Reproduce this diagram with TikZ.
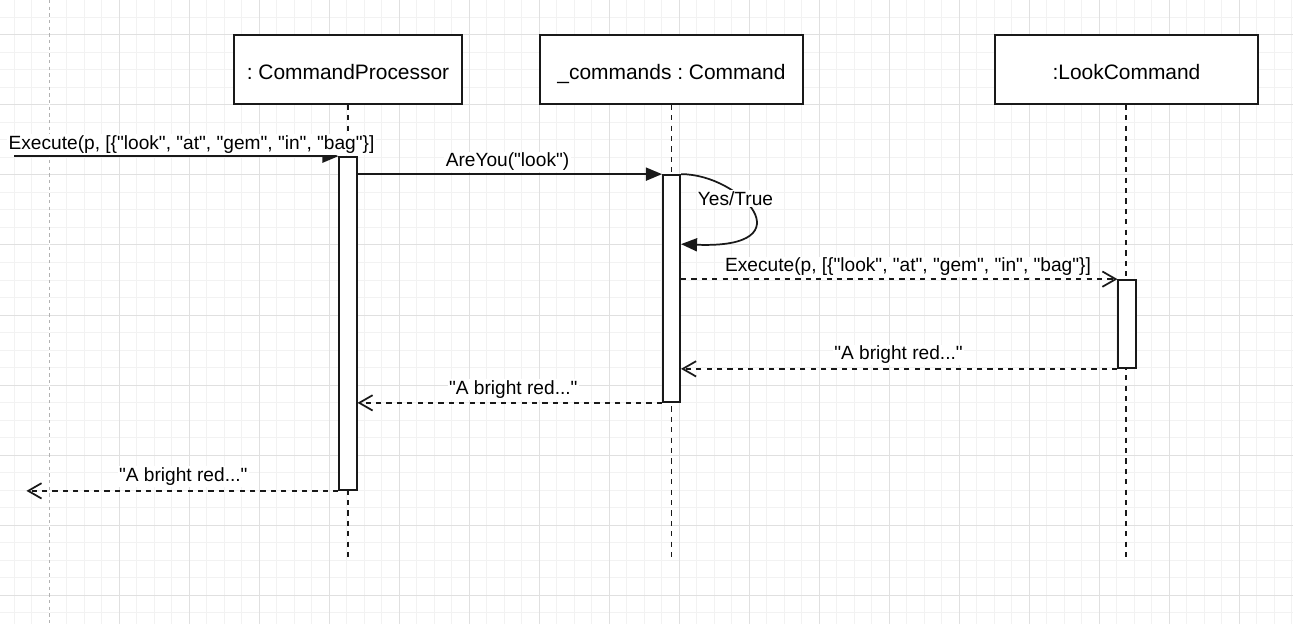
\documentclass[tikz,border=0pt]{standalone}
\usepackage{fontspec}
\setmainfont{Liberation Sans}[Ligatures=TeXOff]
\usetikzlibrary{arrows.meta}

\begin{document}
\frenchspacing
\begin{tikzpicture}[x=0.75pt,y=-0.75pt,
  gridminor/.style={draw=black!5, line width=0.75pt},
  gridmajor/.style={draw=black!12, line width=0.75pt},
  pageline/.style={draw=black!30, line width=0.75pt, dash pattern=on 2.5pt off 2.5pt},
  objbox/.style={draw=black!90, line width=1.3pt, fill=white, minimum height=51.75pt,
    inner sep=0pt, text height=15pt, text depth=0pt,
    font=\fontsize{15.7pt}{18pt}\selectfont},
  lifeline/.style={draw=black!90, line width=1.3pt, dash pattern=on 3.9pt off 3.9pt},
  act/.style={draw=black!90, line width=1.3pt, fill=white, minimum width=13pt, inner sep=0pt},
  call/.style={draw=black!90, line width=1.3pt, -{Triangle[length=12pt,width=9.75pt]}},
  reply/.style={draw=black!90, line width=1.3pt, dash pattern=on 3.9pt off 3.9pt,
    -{Straight Barb[length=10pt,width=11.5pt]}},
  lbl/.style={font=\fontsize{14.35pt}{17pt}\selectfont, fill=white, inner sep=1pt},
]
\useasboundingbox (0,0) rectangle (1293,624);
\fill[white] (0,0) rectangle (1293,624);

% background grid: fine lines every 17.5px, stronger every 70px
\foreach \i in {0,...,73} {
  \draw[gridminor] ({14.3+17.5*\i},0) -- ({14.3+17.5*\i},624);
}
\foreach \j in {0,...,35} {
  \draw[gridminor] (0,{17.5*\j}) -- (1293,{17.5*\j});
}
\foreach \i in {0,...,18} {
  \draw[gridmajor] ({49.3+70*\i},0) -- ({49.3+70*\i},624);
}
\foreach \j in {0,...,8} {
  \draw[gridmajor] (0,{35+70*\j}) -- (1293,{35+70*\j});
}
\draw[white, line width=1pt] (49.3,0) -- (49.3,624);
\draw[pageline] (49.3,0) -- (49.3,624);

% participants
\node[objbox, minimum width=171pt]    (proc) at (348,69.5)    {: CommandProcessor};
\node[objbox, minimum width=197.25pt] (cmds) at (671.5,69.5)  {\_commands : Command};
\node[objbox, minimum width=197.25pt] (look) at (1126.5,69.5) {:LookCommand};

% lifelines
\draw[lifeline] (proc.south) -- ++(0,455);
\draw[lifeline] (cmds.south) -- ++(0,455);
\draw[lifeline] ([xshift=-0.4pt]look.south) -- ++(0,455);

% activation bars
\node[act, minimum height=249.75pt] (a1) at (348,323.5)  {};
\node[act, minimum height=170.25pt] (a2) at (671.5,288.5) {};
\node[act, minimum height=66pt]     (a3) at (1127,324)   {};

% free message ends
\path (a1.north west) ++(-324,0) coordinate (entry);
\path (a1.south west) ++(-312,0) coordinate (exit);
\path (a2.north east) ++(0,70) coordinate (selfret);

% messages
\draw[call]  (entry) -- (a1.north west);
\draw[call]  (a1.east |- a2.north) -- (a2.north west);
\draw[call]  (a2.north east) .. controls +(60,0) and +(128,5) .. (selfret);
\draw[reply] (a2.east |- a3.north) -- (a3.north west);
\draw[reply] (a3.south west) -- (a2.east |- a3.south);
\draw[reply] (a2.south west) -- (a1.east |- a2.south);
\draw[reply] (a1.south west) -- (exit);

% message labels
\node[lbl] (m1) at (191.5,144.5) {Execute(p, [\{"look", "at", "gem", "in", "bag"\}]};
\node[lbl] (m2) at (507.5,161.8) {AreYou("look")};
\node[lbl] (m3) at (735.5,198.5) {Yes/True};
\node[lbl] (m4) at (908,266.8)   {Execute(p, [\{"look", "at", "gem", "in", "bag"\}]};
\node[lbl] (m5) at (898.5,354.8) {"A bright red..."};
\node[lbl] (m6) at (513.3,389.5) {"A bright red..."};
\node[lbl] (m7) at (183.3,476.5) {"A bright red..."};
\end{tikzpicture}
\end{document}
